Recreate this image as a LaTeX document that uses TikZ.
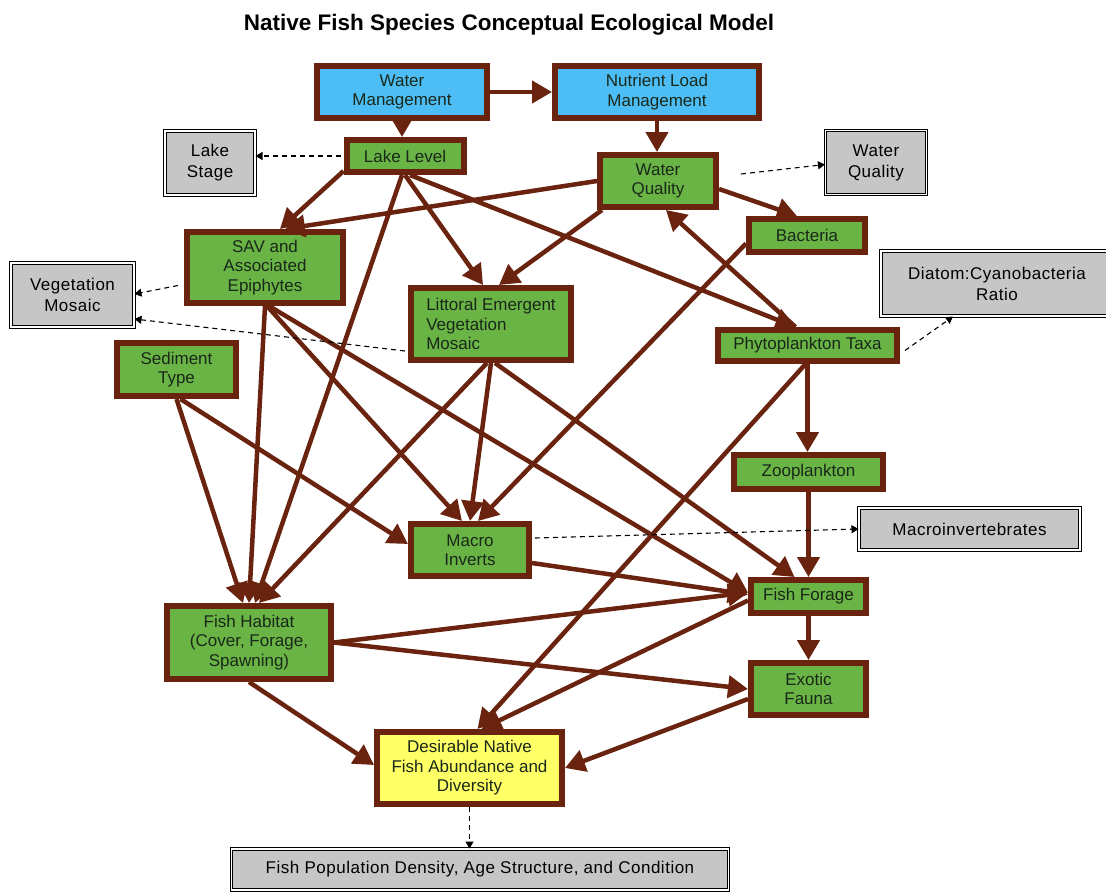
\documentclass[tikz,border=0pt]{standalone}
\usepackage{fontspec}
\setmainfont{Liberation Sans}
\newfontfamily\grayfont[LetterSpace=3]{Liberation Sans}
\usetikzlibrary{arrows.meta,calc}
\definecolor{brn}{RGB}{105,35,15}
\definecolor{grn}{RGB}{106,180,70}
\definecolor{blu}{RGB}{77,190,245}
\definecolor{ylw}{RGB}{255,255,102}
\definecolor{gry}{RGB}{198,198,198}
\definecolor{txt}{RGB}{25,40,25}
\begin{document}
\begin{tikzpicture}[x=1pt,y=-1pt,
  bx/.style={draw=brn, line width=6pt, inner sep=0pt, align=center, text=txt,
     font=\fontsize{17}{19.5}\selectfont},
  gnode/.style={bx, fill=grn},
  bnode/.style={bx, fill=blu},
  ynode/.style={bx, fill=ylw},
  gray/.style={draw=black, line width=1pt, double=white, double distance=1.6pt,
     fill=gry, inner sep=0pt, align=center, text=black,
     font=\grayfont\fontsize{17}{21}\selectfont},
  arr/.style={draw=brn, line width=4.5pt, -{Triangle[length=20pt,width=22pt]}},
  dsh/.style={draw=black, line width=1.1pt, dash pattern=on 5pt off 4pt,
     -{Triangle[length=7pt,width=8pt]}}]
\useasboundingbox[fill=white] (0,0) rectangle (1106,892);

\node[font=\bfseries\fontsize{22.5}{25}\selectfont, anchor=base] (title) at (509,30)
  {Native Fish Species Conceptual Ecological Model};

% boxes
\node[bnode, minimum width=170, minimum height=52] (wm) at (402,92) {Water\\Management};
\node[bnode, minimum width=204, minimum height=52] (nlm) at (657,92) {Nutrient Load\\Management};
\node[gnode, minimum width=117, minimum height=32] (ll) at (405,156) {Lake Level};
\node[gray, minimum width=90, minimum height=64] (lstage) at (210,163) {Lake\\Stage};
\node[gnode, minimum width=116, minimum height=52] (wq) at (658,181) {Water\\Quality};
\node[gray, minimum width=101, minimum height=64] (wqg) at (876,162.5) {Water\\Quality};
\node[gnode, minimum width=116, minimum height=33] (bact) at (807,235.5) {Bacteria};
\node[gnode, minimum width=156, minimum height=71] (sav) at (265,267.5) {SAV and\\Associated\\Epiphytes};
\node[gray, minimum width=123, minimum height=64] (vm) at (72.5,295) {Vegetation\\Mosaic};
\node[gnode, minimum width=160, minimum height=72, align=left] (lit) at (491,324) {Littoral Emergent\\Vegetation\\Mosaic};
\node[gray, minimum width=232, minimum height=65] (diat) at (997,283.5) {Diatom:Cyanobacteria\\Ratio};
\node[gnode, minimum width=179, minimum height=31] (phyto) at (807.5,345.5) {Phytoplankton Taxa};
\node[gnode, minimum width=119, minimum height=53] (sed) at (176.5,369.5) {Sediment\\Type};
\node[gnode, minimum width=149, minimum height=34] (zoo) at (808.5,472) {Zooplankton};
\node[gray, minimum width=221, minimum height=42] (macinv) at (969.5,529) {Macroinvertebrates};
\node[gnode, minimum width=118, minimum height=52] (macro) at (470,550) {Macro\\Inverts};
\node[gnode, minimum width=115, minimum height=33] (ff) at (808.5,596.5) {Fish Forage};
\node[gnode, minimum width=164, minimum height=73] (fh) at (249,642.5) {Fish Habitat\\(Cover, Forage,\\Spawning)};
\node[gnode, minimum width=115, minimum height=52] (exo) at (808.5,689) {Exotic\\Fauna};
\node[ynode, minimum width=185, minimum height=72] (des) at (469.5,768) {Desirable Native\\Fish Abundance and\\Diversity};
\node[gray, minimum width=497, minimum height=41] (fpop) at (480,869.5) {Fish Population Density, Age Structure, and Condition};

% solid influences
\draw[arr] (wm.east) -- (nlm.west);
\draw[arr] (wm.south) -- (wm.south |- ll.north);
\draw[arr] (nlm.south) -- (nlm.south |- wq.north);
\draw[arr] ($(ll.south west)+(0,-4)$) -- ($(sav.north)+(15,0)$);
\draw[arr] (wq.west) -- ($(sav.north)+(20,0)$);
\draw[arr] (ll.south) -- ($(lit.north)+(-8,0)$);
\draw[arr] ($(wq.south west)+(5,0)$) -- ($(lit.north)+(8,0)$);
\draw[arr] ($(ll.south)+(5,0)$) -- ($(phyto.north)+(-12,0)$);
\draw[arr] ($(phyto.north)+(-12,0)$) -- ($(wq.south)+(8,0)$);
\draw[arr] ($(wq.east)+(0,8)$) -- ($(bact.north)+(-10,0)$);
\draw[arr] ($(bact.west)+(0,8)$) -- ($(macro.north)+(8,0)$);
\draw[arr] ($(ll.south)+(-3,0)$) -- ($(fh.north)+(6,0)$);
\draw[arr] (sav.south) -- (fh.north);
\draw[arr] ($(sav.south)+(2,0)$) -- ($(macro.north)+(-8,0)$);
\draw[arr] ($(sav.south)+(4,0)$) -- ($(ff.west)+(0,-4)$);
\draw[arr] ($(lit.south)+(-4,0)$) -- ($(fh.north)+(10,0)$);
\draw[arr] (lit.south) -- (macro.north);
\draw[arr] ($(lit.south)+(4,0)$) -- ($(ff.north)+(-14,0)$);
\draw[arr] (sed.south) -- ($(fh.north)+(-6,0)$);
\draw[arr] ($(sed.south)+(4,0)$) -- ($(macro.west)+(0,-6)$);
\draw[arr] (phyto.south) -- (phyto.south |- zoo.north);
\draw[arr] ($(phyto.south)+(-2,0)$) -- ($(des.north)+(8,0)$);
\draw[arr] (zoo.south) -- (ff.north);
\draw[arr] ($(macro.east)+(0,13)$) -- ($(ff.west)+(0,-2)$);
\draw[arr] (fh.east) -- ($(ff.west)+(0,-4)$);
\draw[arr] (fh.east) -- (exo.west);
\draw[arr] (ff.south) -- (exo.north);
\draw[arr] ($(ff.west)+(0,4)$) -- ($(des.north)+(12,0)$);
\draw[arr] ($(exo.west)+(0,10)$) -- (des.east);
\draw[arr] (fh.south) -- ($(des.west)+(0,-3)$);

% dashed indicator links
\draw[dsh] ($(ll.west)+(-3,0)$) -- (ll.west -| lstage.east);
\draw[dsh] ($(wq.east)+(22,-7)$) -- ($(wqg.west)+(0,2)$);
\draw[dsh] ($(sav.west)+(-6,18)$) -- ($(vm.east)+(0,-1)$);
\draw[dsh] ($(lit.west)+(-3,27)$) -- ($(vm.east)+(0,24)$);
\draw[dsh] ($(phyto.east)+(5,5)$) -- ($(diat.south)+(-44,0)$);
\draw[dsh] ($(macro.east)+(3,-12)$) -- (macinv.west);
\draw[dsh] (des.south) -- (des.south |- fpop.north);
\end{tikzpicture}
\end{document}
